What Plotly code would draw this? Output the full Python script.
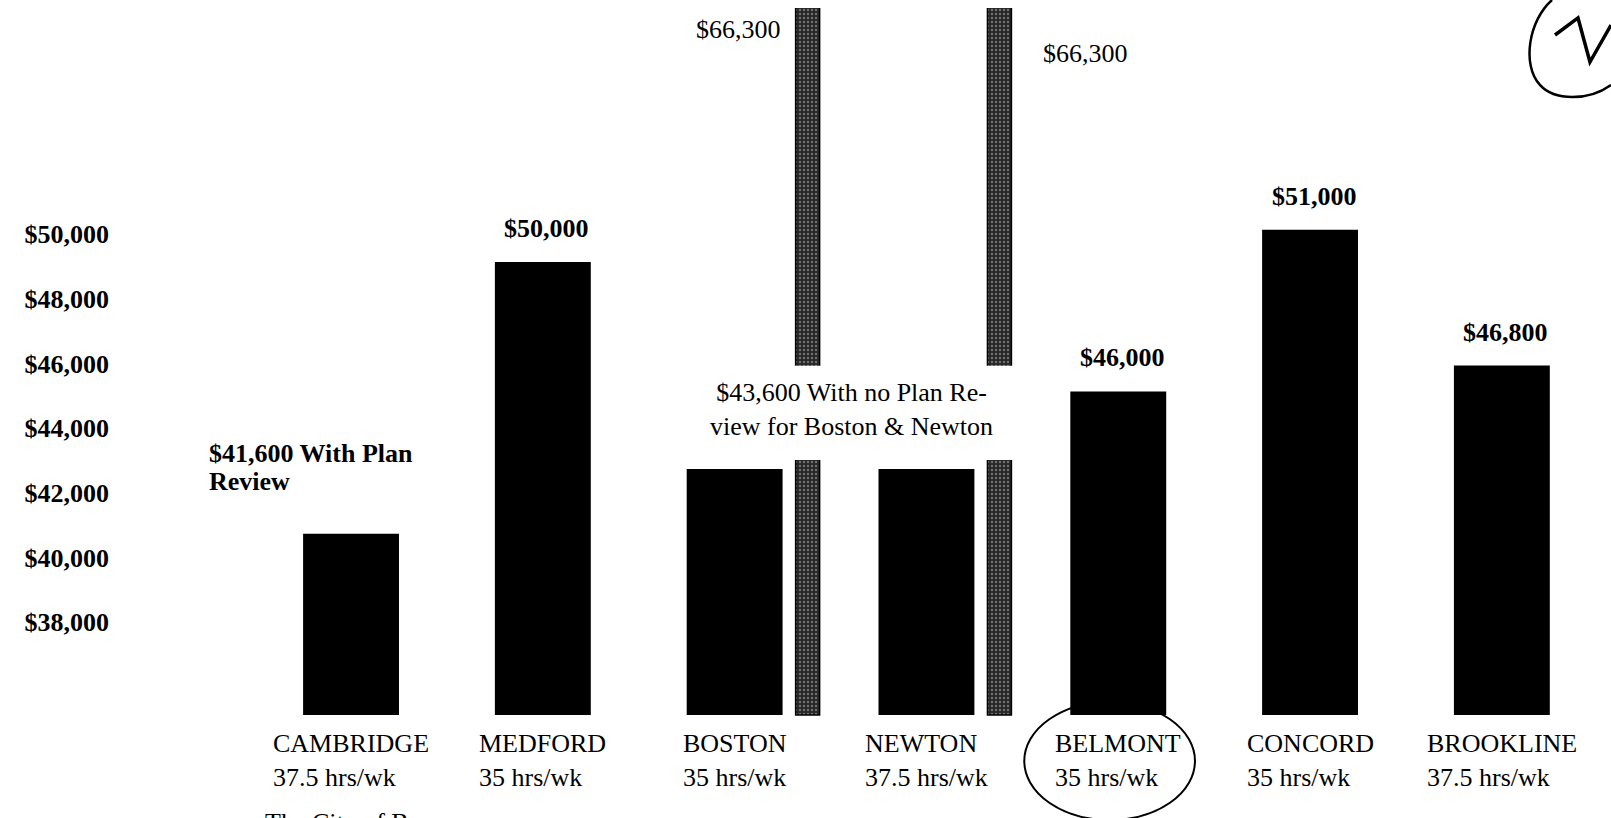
import plotly.graph_objects as go

# ---------------- data ----------------
cities = ["CAMBRIDGE", "MEDFORD", "BOSTON", "NEWTON", "BELMONT", "CONCORD", "BROOKLINE"]
hours = ["37.5 hrs/wk", "35 hrs/wk", "35 hrs/wk", "37.5 hrs/wk", "35 hrs/wk", "35 hrs/wk", "37.5 hrs/wk"]
salary = [41600, 50000, 43600, 43600, 46000, 51000, 46800]
salary_labels = ["", "$50,000", "", "", "$46,000", "$51,000", "$46,800"]
review_cities = ["BOSTON", "NEWTON"]
review_salary = [66300, 66300]
review_labels = ["$66,300", "$66,300"]
tick_values = [38000, 40000, 42000, 44000, 46000, 48000, 50000]
tick_labels = ["$38,000", "$40,000", "$42,000", "$44,000", "$46,000", "$48,000", "$50,000"]
baseline = 36000
break_low, break_high = 43880, 46790   # gap drawn in the tall bars

FONT = "Liberation Serif"
FS = 26

fig = go.Figure()

fig.add_trace(go.Bar(
    x=cities, y=[v - baseline for v in salary], base=baseline,
    width=0.5, offset=-0.25,
    marker=dict(color="black", line=dict(width=0)),
    hoverinfo="skip", showlegend=False,
))

fig.add_trace(go.Bar(
    x=review_cities, y=[v - baseline for v in review_salary], base=baseline,
    width=0.125, offset=0.318,
    marker=dict(color="#262626", line=dict(color="#000", width=1.5),
                pattern=dict(shape=".", fgcolor="#b8b8b8", size=4, solidity=0.3)),
    hoverinfo="skip", showlegend=False,
))

# break in the tall plan-review bars
fig.add_shape(type="rect", xref="x", yref="y", x0=2.28, x1=3.48,
              y0=break_low, y1=break_high, fillcolor="white",
              line=dict(width=0), layer="above")

BOLD = dict(family=FONT, size=FS, color="black", weight="bold")

ann = []
for i, (c, v, t) in enumerate(zip(cities, salary, salary_labels)):
    if t:
        ann.append(dict(x=i, y=v, xref="x", yref="y", text=t, showarrow=False,
                        yanchor="bottom", yshift=17, xshift=4, font=BOLD))
    ann.append(dict(x=i, y=baseline, xref="x", yref="y",
                    text=f"{c}<br>{hours[i]}", align="left", showarrow=False,
                    yanchor="top", yshift=-12))

# Cambridge note (two tightly spaced lines)
ann.append(dict(x=0, y=salary[0], xref="x", yref="y", text="$41,600 With Plan",
                showarrow=False, xanchor="left", yanchor="middle",
                xshift=-144, yshift=80, font=BOLD))
ann.append(dict(x=0, y=salary[0], xref="x", yref="y", text="Review",
                showarrow=False, xanchor="left", yanchor="middle",
                xshift=-144, yshift=52, font=BOLD))
ann.append(dict(x=2.5, y=salary[2], xref="x", yref="y",
                text="$43,600 With no Plan Re-<br>view for Boston &amp; Newton",
                align="center", showarrow=False, yanchor="bottom", xshift=21, yshift=26))
ann.append(dict(x=2, y=1, xref="x", yref="paper", text=review_labels[0],
                showarrow=False, xanchor="right", yanchor="middle", xshift=48, yshift=-21))
ann.append(dict(x=3, y=1, xref="x", yref="paper", text=review_labels[1],
                showarrow=False, xanchor="left", yanchor="middle", xshift=115, yshift=-45))
ann.append(dict(x=0, y=0, xref="x", yref="paper", text="The City of B",
                showarrow=False, xanchor="left", yanchor="top", xshift=-88, yshift=12))

# hand-drawn circle round Belmont
fig.add_shape(type="circle", xref="x", yref="y", x0=3.51, x1=4.40,
              y0=32750, y1=36400, line=dict(color="black", width=2))

# hand-written initials mark in the top-right corner
fig.add_shape(type="path", xref="paper", yref="paper",
              path="M 0.9605 1.0099 C 0.945 0.985, 0.940 0.930, 0.9524 0.905 "
                   "C 0.962 0.885, 0.985 0.885, 1.0 0.905",
              line=dict(color="black", width=2.5))
fig.add_shape(type="path", xref="paper", yref="paper",
              path="M 0.9625 0.9667 L 0.9779 0.9877 L 0.9859 0.9333 L 1.0 0.979",
              line=dict(color="black", width=3.5))

fig.update_layout(
    width=1611, height=818,
    margin=dict(l=118, r=0, t=8, b=0),
    paper_bgcolor="white", plot_bgcolor="white",
    barmode="overlay",
    font=dict(family=FONT, size=FS, color="black"),
    annotations=ann,
    xaxis=dict(range=[-1.215, 6.569], showticklabels=False, showgrid=False,
               zeroline=False, showline=False, ticks="", fixedrange=True),
    yaxis=dict(range=[32813, 57852], tickvals=tick_values, ticktext=tick_labels,
               showgrid=False, zeroline=False, showline=False, ticks="",
               ticklabelshift=-28, ticklabelstandoff=8,
               tickfont=BOLD, fixedrange=True),
)

fig.write_html("out.html", config={"displayModeBar": False},
               post_script="document.body.style.margin='0';document.body.style.overflow='hidden';")
